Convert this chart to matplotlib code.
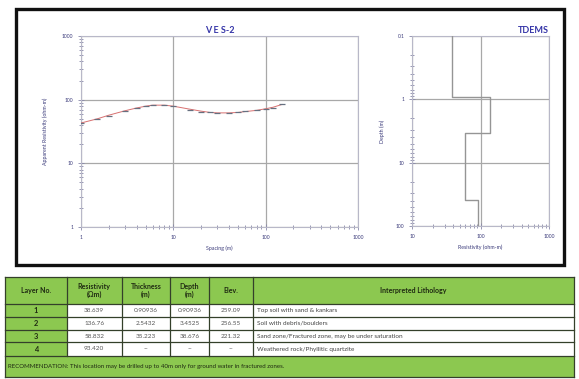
import matplotlib
matplotlib.use('Agg')
import matplotlib.pyplot as plt
from matplotlib.patches import Rectangle
from matplotlib.ticker import LogLocator, NullFormatter

plt.rcParams['font.family'] = ['Lato', 'DejaVu Sans']

# VES-2 sounding: AB/2 spacing (m) vs apparent resistivity (ohm-m)
spacing = [1, 1.5, 2, 3, 4, 5, 6, 8, 10, 15, 20, 25, 30, 40, 50, 60, 80, 100, 120, 150]
app_res = [43, 50, 56, 66, 74, 79, 82, 83, 79, 70, 65, 63, 62, 62, 64, 66, 69, 72, 75, 86]
model_res = [43, 50, 57, 67, 74, 79, 82, 82, 79, 71, 66, 63, 62, 62, 63, 65, 68, 72, 76, 84]

# layer model (table + TDEMS profile)
layer_no = ['1', '2', '3', '4']
resistivity = [38.639, 136.76, 58.832, 93.420]
thickness = [0.90936, 2.5432, 35.223]
depth = [0.90936, 3.4525, 38.676]
elev = [259.09, 256.55, 221.32]
lithology = ['Top soil with sand & kankars',
             'Soil with debris/boulders',
             'Sand zone/Fractured zone, may be under saturation',
             'Weathered rock/Phyllitic quartzite']
recommendation = ('RECOMMENDATION: This location may be drilled up to 40m only '
                  'for ground water in fractured zones.')

W, H = 579, 379
fig = plt.figure(figsize=(W / 100, H / 100), dpi=100)
fig.patch.set_facecolor('white')

def px_axes(x0, y0, x1, y1):
    return fig.add_axes([x0 / W, 1 - y1 / H, (x1 - x0) / W, (y1 - y0) / H])

lab_col = '#3a3a7a'
grid_col = '#a8a8a8'

def style_log(ax):
    for s in ax.spines.values():
        s.set_color('#b8b8c8')
        s.set_linewidth(0.8)
    ax.tick_params(which='both', direction='inout', colors='#8888aa',
                   labelsize=3.6, labelcolor=lab_col, width=0.6)
    ax.tick_params(which='major', length=4)
    ax.tick_params(which='minor', length=2.5)
    ax.grid(True, which='major', color=grid_col, lw=0.9)
    ax.set_axisbelow(True)

# ---- VES plot
ax = px_axes(81, 36, 358, 227)
ax.set_xscale('log')
ax.set_yscale('log')
ax.set_xlim(1, 1000)
ax.set_ylim(1, 1000)
ax.plot(spacing, model_res, color='#d87070', lw=0.7, zorder=3)
ax.plot(spacing, app_res, ls='none', marker='_', ms=4, mew=0.9,
        color='#667080', zorder=4)
ax.set_xticks([1, 10, 100, 1000])
ax.set_xticklabels(['1', '10', '100', '1000'])
ax.set_yticks([1, 10, 100, 1000])
ax.set_yticklabels(['1', '10', '100', '1000'])
ax.xaxis.set_minor_locator(LogLocator(base=10, subs=range(2, 10)))
ax.yaxis.set_minor_locator(LogLocator(base=10, subs=range(2, 10)))
ax.xaxis.set_minor_formatter(NullFormatter())
ax.yaxis.set_minor_formatter(NullFormatter())
style_log(ax)
ax.set_xlabel('Spacing (m)', fontsize=3.8, color=lab_col, labelpad=4)
ax.set_ylabel('Apparent Resistivity (ohm-m)', fontsize=3.8, color=lab_col, labelpad=10)
ax.set_title('V E S-2', fontsize=6.5, color='#3535a8', fontweight='bold', pad=2)

# ---- TDEMS profile
ax2 = px_axes(412, 36, 549, 226)
ax2.set_xscale('log')
ax2.set_yscale('log')
ax2.set_xlim(10, 1000)
ax2.set_ylim(100, 0.1)
prof_x, prof_y = [], []
tops = [0.1] + depth
bots = depth + [100]
for r, t, b in zip(resistivity, tops, bots):
    prof_x += [r, r]
    prof_y += [t, b]
ax2.plot(prof_x, prof_y, color='#959595', lw=1.0, zorder=3)
ax2.set_xticks([10, 100, 1000])
ax2.set_xticklabels(['10', '100', '1000'])
ax2.set_yticks([0.1, 1, 10, 100])
ax2.set_yticklabels(['0.1', '1', '10', '100'])
ax2.xaxis.set_minor_locator(LogLocator(base=10, subs=range(2, 10)))
ax2.yaxis.set_minor_locator(LogLocator(base=10, subs=range(2, 10)))
ax2.xaxis.set_minor_formatter(NullFormatter())
ax2.yaxis.set_minor_formatter(NullFormatter())
style_log(ax2)
ax2.set_xlabel('Resistivity (ohm-m)', fontsize=3.8, color=lab_col, labelpad=4)
ax2.set_ylabel('Depth (m)', fontsize=3.8, color=lab_col, labelpad=8)
ax2.set_title('TDEMS', fontsize=6.5, color='#3535a8', fontweight='bold',
              loc='right', pad=2)

# ---- overlay: frame + table
ov = fig.add_axes([0, 0, 1, 1])
ov.set_xlim(0, W)
ov.set_ylim(H, 0)
ov.axis('off')
ov.patch.set_visible(False)
ov.add_patch(Rectangle((16, 9), 548, 256, fill=False, ec='#111111', lw=2.4))

green = '#8cc850'
line_col = '#34402a'
txt_col = '#1f2a12'
cols = [5, 66.7, 121.7, 170, 209, 253.3, 574]
rows = [276.7, 304.3, 316.7, 330, 342.3, 355.7, 377]

# backgrounds
ov.add_patch(Rectangle((cols[0], rows[0]), cols[-1] - cols[0], rows[-1] - rows[0],
                       fc=green, ec='none'))
ov.add_patch(Rectangle((cols[1], rows[1]), cols[-1] - cols[1], rows[5] - rows[1],
                       fc='white', ec='none'))
for y in rows:
    ov.plot([cols[0], cols[-1]], [y, y], color=line_col, lw=0.9)
for i, x in enumerate(cols):
    y_end = rows[5] if 0 < i < len(cols) - 1 else rows[-1]
    ov.plot([x, x], [rows[0], y_end], color=line_col, lw=0.9)

headers = ['Layer No.', 'Resistivity\n(Ωm)', 'Thickness\n(m)', 'Depth\n(m)', 'Elev.',
           'Interpreted Lithology']
hy = (rows[0] + rows[1]) / 2
for i, h in enumerate(headers):
    cx = (cols[i] + cols[i + 1]) / 2
    ov.text(cx, hy, h, ha='center', va='center', fontsize=5, fontweight='bold',
            color=txt_col, linespacing=1.25)

def fmt(v):
    return '{:g}'.format(v)

for r in range(4):
    cy = (rows[r + 1] + rows[r + 2]) / 2
    vals = [layer_no[r], '{:.3f}'.format(resistivity[r]) if r == 3 else fmt(resistivity[r]),
            fmt(thickness[r]) if r < 3 else '--',
            fmt(depth[r]) if r < 3 else '--',
            '{:.2f}'.format(elev[r]) if r < 3 else '--']
    for c, v in enumerate(vals):
        cx = (cols[c] + cols[c + 1]) / 2
        if c == 0:
            ov.text(cx, cy, v, ha='center', va='center', fontsize=5.4,
                    fontweight='bold', color=txt_col)
        else:
            ov.text(cx, cy, v, ha='center', va='center', fontsize=4.6,
                    color='#555555')
    ov.text(cols[5] + 4, cy, lithology[r], ha='left', va='center', fontsize=4.6,
            color='#444444')

ov.text(cols[0] + 3, (rows[5] + rows[6]) / 2, recommendation, ha='left', va='center',
        fontsize=4.4, color=txt_col)

fig.savefig('out.png', dpi=100)
